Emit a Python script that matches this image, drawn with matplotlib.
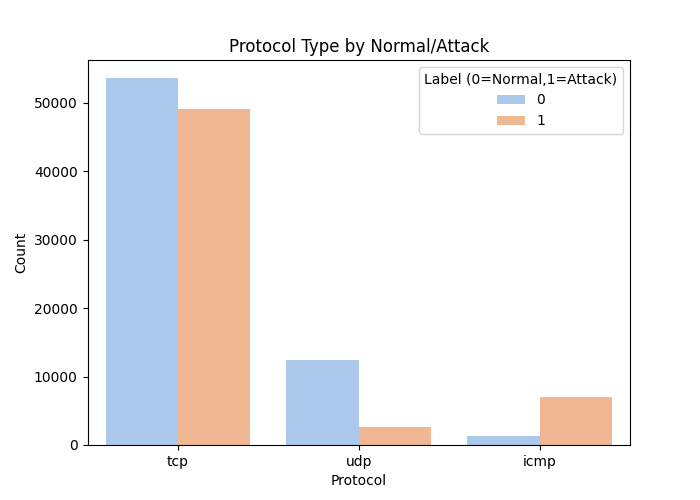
import matplotlib
matplotlib.use("Agg")
import matplotlib.pyplot as plt
import seaborn as sns
import pandas as pd

protocols = ["tcp", "udp", "icmp"]
normal_counts = [53600, 12434, 1309]
attack_counts = [49089, 2559, 6990]

rows = []
for p, n, a in zip(protocols, normal_counts, attack_counts):
    rows.append({"Protocol": p, "Label": 0, "Count": n})
    rows.append({"Protocol": p, "Label": 1, "Count": a})
df = pd.DataFrame(rows)

fig, ax = plt.subplots(figsize=(7, 5), dpi=100)
sns.barplot(data=df, x="Protocol", y="Count", hue="Label", palette="pastel", ax=ax, order=protocols)
ax.set_title("Protocol Type by Normal/Attack")
ax.set_xlabel("Protocol")
ax.set_ylabel("Count")
ax.legend(title="Label (0=Normal,1=Attack)", loc="upper right")
fig.savefig("out.png", dpi=100)
